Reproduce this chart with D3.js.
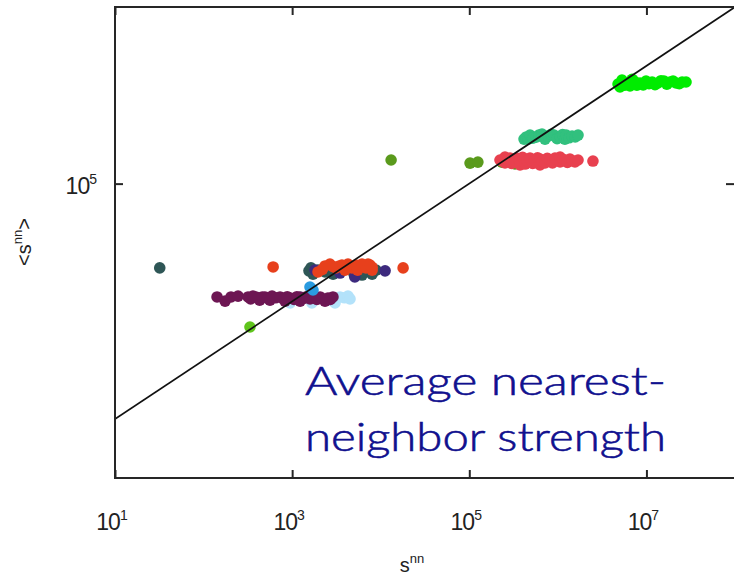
<!DOCTYPE html>
<html>
<head>
<meta charset="utf-8">
<script src="https://cdn.jsdelivr.net/npm/d3@7"></script>
<style>
html,body{margin:0;padding:0;background:#fff;}
svg{display:block;}
</style>
</head>
<body>
<svg id="chart" width="734" height="577"></svg>
<script>
// ---- data (s^nn, <s^nn>) ----
const xTicks = [1e1, 1e3, 1e5, 1e7];
const yTicks = [1e5];
const xTickLabels = ["1", "3", "5", "7"];
const yTickLabels = ["5"];

const lightBlue = [[9.5e2,9.4e2],[1.23e3,1.19e3],[1.67e3,9.4e2],[2.07e3,1.14e3],[2.67e3,1.05e3],[3.05e3,9.4e2],[3.47e3,1.19e3],[3.9e3,1.15e3],[4.27e3,1.23e3],[4.5e3,1.1e3]];
const maroon = [[1.42e2,1.19e3],[1.75e2,1.01e3],[2.04e2,1.19e3],[2.45e2,1.23e3],[3.18e2,1.19e3],[3.4e2,1.1e3],[3.61e2,1.23e3],[3.9e2,1.19e3],[4.12e2,1.14e3],[4.3e2,1.05e3],[4.6e2,1.19e3],[4.94e2,1.19e3],[5.3e2,1.12e3],[5.62e2,1.05e3],[5.93e2,1.23e3],[6.5e2,1.15e3],[7.3e2,1.19e3],[8.0e2,1.1e3],[8.3e2,1.01e3],[8.8e2,1.2e3],[9.46e2,1.14e3],[1.05e3,1.08e3],[1.13e3,1.2e3],[1.23e3,1.19e3],[1.23e3,1.01e3],[1.35e3,1.12e3],[1.45e3,1.2e3],[1.59e3,1.1e3],[1.75e3,1.17e3],[1.9e3,1.08e3],[2.07e3,1.19e3],[2.2e3,1.1e3],[2.35e3,1.01e3],[2.54e3,1.14e3],[2.7e3,1.08e3],[2.89e3,1.19e3]];
const blue = [[1.59e3,1.75e3],[1.72e3,1.56e3]];
const limeGreen = [[3.34e2,3.67e2]];
const darkTeal = [[32,3.7e3],[1.55e3,3.3e3],[1.63e3,3.7e3],[1.72e3,2.9e3],[1.96e3,3.4e3],[2.35e3,3.16e3],[2.9e3,2.9e3],[3.95e3,3.7e3],[5.0e3,2.9e3],[6.15e3,2.8e3],[7.2e3,3.2e3],[8.0e3,2.9e3],[8.85e3,3.4e3]];
const indigo = [[1.81e3,3.4e3],[3.47e3,3.03e3],[5.1e3,2.6e3],[1.12e4,3.3e3]];
const orangeRed = [[6.1e2,3.84e3],[1.79e4,3.7e3],[1.96e3,3.16e3],[2.2e3,3.5e3],[2.35e3,4.0e3],[2.67e3,4.3e3],[2.9e3,3.9e3],[3.13e3,3.7e3],[3.4e3,4.0e3],[3.65e3,4.15e3],[3.95e3,3.4e3],[4.27e3,4.3e3],[4.5e3,3.9e3],[4.74e3,3.7e3],[5.26e3,4.15e3],[5.5e3,3.4e3],[5.8e3,3.9e3],[6.15e3,4.3e3],[6.82e3,3.7e3],[7.2e3,4.3e3],[7.57e3,4.15e3],[8.0e3,3.4e3],[8.0e3,3.8e3]];
const olive = [[1.31e4,2.52e5],[1.02e5,2.23e5],[1.25e5,2.32e5],[2.34e5,2.32e5],[3.28e5,2.16e5]];
const red = [[2.22e5,2.52e5],[2.4e5,2.4e5],[2.53e5,2.24e5],[2.53e5,2.83e5],[2.7e5,2.55e5],[2.88e5,2.72e5],[3.0e5,2.2e5],[3.28e5,2.33e5],[3.5e5,2.7e5],[3.74e5,2.52e5],[3.74e5,2.07e5],[4.0e5,2.8e5],[4.26e5,2.15e5],[4.5e5,2.45e5],[4.85e5,2.72e5],[5.2e5,2.2e5],[5.52e5,2.42e5],[5.9e5,2.75e5],[6.28e5,2.62e5],[6.28e5,2.07e5],[6.7e5,2.4e5],[7.16e5,2.24e5],[7.6e5,2.7e5],[8.15e5,2.52e5],[8.7e5,2.25e5],[9.29e5,2.72e5],[1.0e6,2.45e5],[1.06e6,2.33e5],[1.06e6,2.83e5],[1.13e6,2.6e5],[1.2e6,2.52e5],[1.28e6,2.3e5],[1.37e6,2.62e5],[1.46e6,2.45e5],[1.56e6,2.33e5],[1.69e6,2.52e5],[2.49e6,2.42e5]];
const seaGreen = [[4.15e5,5.7e5],[4.4e5,6.2e5],[4.6e5,5.7e5],[4.85e5,6.67e5],[5.2e5,5.9e5],[5.66e5,6.17e5],[6.1e5,6.7e5],[6.62e5,6.93e5],[7.16e5,5.7e5],[7.74e5,6.41e5],[8.4e5,6.9e5],[9.04e5,6.67e5],[9.8e5,5.8e5],[1.06e6,6.17e5],[1.13e6,6.8e5],[1.2e6,5.7e5],[1.24e6,6.67e5],[1.34e6,6.0e5],[1.45e6,6.41e5],[1.57e6,6.2e5],[1.69e6,6.67e5]];
const brightGreen = [[4.78e6,4.92e6],[5.03e6,4.38e6],[5.3e6,5.75e6],[5.7e6,4.7e6],[6.19e6,5.12e6],[6.53e6,4.55e6],[6.9e6,5.9e6],[7.25e6,5.53e6],[7.8e6,4.7e6],[8.47e6,5.12e6],[9.2e6,4.75e6],[9.9e6,5.53e6],[1.07e7,5.0e6],[1.16e7,5.32e6],[1.25e7,4.8e6],[1.35e7,5.12e6],[1.46e7,5.6e6],[1.58e7,5.53e6],[1.7e7,4.9e6],[1.85e7,5.32e6],[2.0e7,5.5e6],[2.16e7,5.12e6],[2.35e7,5.0e6],[2.53e7,5.32e6],[2.8e7,5.32e6]];

const series = [
  {pts: lightBlue, color: "#b3e2fa"},
  {pts: maroon, color: "#6d1753"},
  {pts: blue, color: "#2b9be0"},
  {pts: limeGreen, color: "#5fc41c"},
  {pts: darkTeal, color: "#2e5756"},
  {pts: indigo, color: "#3c2b7e"},
  {pts: orangeRed, color: "#e7401f"},
  {pts: olive, color: "#5a9a1f"},
  {pts: red, color: "#e8414f"},
  {pts: seaGreen, color: "#30c07e"},
  {pts: brightGreen, color: "#06ec06"}
];

// ---- layout ----
const L = 115, R = 735, T = 7, B = 478;
const svg = d3.select("#chart");
const x = d3.scaleLog().domain([1e1, 1e8]).range([L, R]);
const y = d3.scaleLog().domain([1e0, 1e8]).range([B, T]);

const defs = svg.append("defs");
defs.append("clipPath").attr("id","clip")
  .append("rect").attr("x", L).attr("y", T).attr("width", R - L).attr("height", B - T);
defs.append("filter").attr("id","soft").attr("x","-20%").attr("y","-20%").attr("width","140%").attr("height","140%")
  .append("feGaussianBlur").attr("stdDeviation", 0.6);

const plot = svg.append("g").attr("clip-path","url(#clip)");
const dots = plot.append("g").attr("filter","url(#soft)");

series.forEach(s => {
  dots.selectAll(null).data(s.pts).enter().append("circle")
    .attr("cx", d => x(d[0])).attr("cy", d => y(d[1]))
    .attr("r", 5.8).attr("fill", s.color);
});

// y = x reference line
const lineData = [1e1, 1e8];
plot.append("path")
  .attr("d", d3.line().x(d => x(d)).y(d => y(d))(lineData))
  .attr("stroke", "#111").attr("stroke-width", 1.7).attr("fill", "none");

// frame
svg.append("rect").attr("x", L).attr("y", T).attr("width", R - L + 3).attr("height", B - T)
  .attr("fill", "none").attr("stroke", "#262626").attr("stroke-width", 2);

// axes ticks (inward)
const tickLen = 8;
const xb = svg.append("g").attr("transform", `translate(0,${B})`)
  .call(d3.axisBottom(x).tickValues(xTicks).tickSize(-tickLen).tickFormat(""));
const xt = svg.append("g").attr("transform", `translate(0,${T})`)
  .call(d3.axisTop(x).tickValues(xTicks).tickSize(-tickLen).tickFormat(""));
const yl = svg.append("g").attr("transform", `translate(${L},0)`)
  .call(d3.axisLeft(y).tickValues(yTicks).tickSize(-tickLen).tickFormat(""));
const yr = svg.append("g").attr("transform", `translate(${R - 1},0)`)
  .call(d3.axisRight(y).tickValues(yTicks).tickSize(-tickLen).tickFormat(""));
[xb, xt, yl, yr].forEach(g => {
  g.select(".domain").remove();
  g.selectAll(".tick line").attr("stroke", "#262626").attr("stroke-width", 2);
});

// tick labels
const labFont = "'Liberation Sans', Arial, Helvetica, sans-serif";
xTicks.forEach((t, i) => {
  const tx = svg.append("text").attr("x", x(t) - 3).attr("y", 530)
    .attr("text-anchor", "middle").attr("font-family", labFont).attr("font-size", 23).attr("fill", "#222");
  tx.append("tspan").attr("letter-spacing", -1).text("10");
  tx.append("tspan").attr("font-size", 14).attr("dy", -10).text(xTickLabels[i]);
});
yTicks.forEach((t, i) => {
  const tx = svg.append("text").attr("x", 97).attr("y", y(t) + 10)
    .attr("text-anchor", "end").attr("font-family", labFont).attr("font-size", 23).attr("fill", "#222");
  tx.append("tspan").attr("letter-spacing", -1).text("10");
  tx.append("tspan").attr("font-size", 14).attr("dy", -10).text(yTickLabels[i]);
});

// axis titles
const xt2 = svg.append("text").attr("x", 412).attr("y", 572)
  .attr("text-anchor", "middle").attr("font-family", labFont).attr("font-size", 20).attr("fill", "#222");
xt2.append("tspan").text("s");
xt2.append("tspan").attr("font-size", 13).attr("dy", -9).text("nn");

const yt2 = svg.append("text").attr("transform", "translate(31,242) rotate(-90)")
  .attr("text-anchor", "middle").attr("font-family", labFont).attr("font-size", 20).attr("fill", "#222");
yt2.append("tspan").text("<s");
yt2.append("tspan").attr("font-size", 13).attr("dy", -9).text("nn");
yt2.append("tspan").attr("dy", 9).text(">");

// annotation
const annFont = "'Century Gothic', Lato, 'Open Sans', sans-serif";
const ann = [["Average nearest-", 395], ["neighbor strength", 451]];
ann.forEach(a => {
  svg.append("text").attr("x", 305).attr("y", a[1])
    .attr("font-family", annFont).attr("font-size", 39).attr("font-weight", 300)
    .attr("fill", "#10108e").attr("stroke", "#10108e").attr("stroke-width", 0.6)
    .attr("textLength", 361).attr("lengthAdjust", "spacingAndGlyphs")
    .text(a[0]);
});
</script>
</body>
</html>
